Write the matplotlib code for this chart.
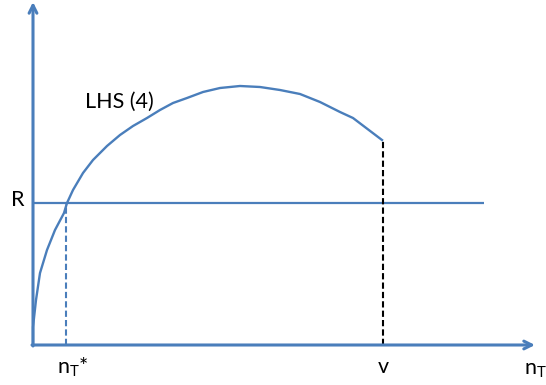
import matplotlib
matplotlib.use("Agg")
import matplotlib.pyplot as plt

plt.rcParams['font.family'] = ['Lato', 'DejaVu Sans']
plt.rcParams['mathtext.fontset'] = 'custom'
plt.rcParams['mathtext.rm'] = 'Lato'
plt.rcParams['mathtext.it'] = 'Lato'

# Curve LHS (4)
curve_x = [0, 0, 3, 7, 14, 22, 31, 34, 40, 50, 60, 74, 87, 100, 114, 127, 140, 154,
           170, 187, 207, 227, 247, 267, 287, 307, 320, 349]
curve_y = [0, 18, 45, 72, 95, 115, 132, 142, 155, 172, 185, 199, 210, 219, 227, 235, 242, 247,
           253, 257, 259, 258, 255, 251, 243, 233, 227, 205]
R_level = 142
R_end = 451
n_star = 33
v_pos = 350
v_top = 205
x_axis_end = 502
y_axis_end = 343

blue = '#4A7EBB'

fig = plt.figure(figsize=(5.46, 3.85), dpi=100)
ax = fig.add_axes([0, 0, 1, 1])
ax.set_xlim(-33, 513)
ax.set_ylim(-40, 345)
ax.axis('off')

# axes with arrows
ax.annotate('', xy=(x_axis_end, 0), xytext=(-1, 0),
            arrowprops=dict(arrowstyle='->', color=blue, lw=2.2, mutation_scale=14,
                            shrinkA=0, shrinkB=0))
ax.annotate('', xy=(0, y_axis_end), xytext=(0, -1),
            arrowprops=dict(arrowstyle='->', color=blue, lw=2.2, mutation_scale=14,
                            shrinkA=0, shrinkB=0))

# R line
ax.plot([0, R_end], [R_level, R_level], color=blue, lw=1.6, solid_capstyle='butt')
# curve
ax.plot(curve_x, curve_y, color=blue, lw=1.7, solid_joinstyle='round')
# dashed lines
ax.plot([n_star, n_star], [0, R_level], color=blue, lw=1.5, ls=(0, (3, 1.5)))
ax.plot([v_pos, v_pos], [0, v_top], color='black', lw=1.5, ls=(0, (3, 1.5)))

fs = 15.5
ax.text(-15, 145, 'R', fontsize=fs, ha='center', va='center')
ax.text(52, 243, 'LHS (4)', fontsize=fs, ha='left', va='center')
ax.text(24, -22, r'$\mathregular{n_T}$*', fontsize=fs, ha='left', va='center')
ax.text(350, -22, 'v', fontsize=fs, ha='center', va='center')
ax.text(491, -25, r'$\mathregular{n_T}$', fontsize=fs, ha='left', va='center')

fig.savefig('out.png', dpi=100)
